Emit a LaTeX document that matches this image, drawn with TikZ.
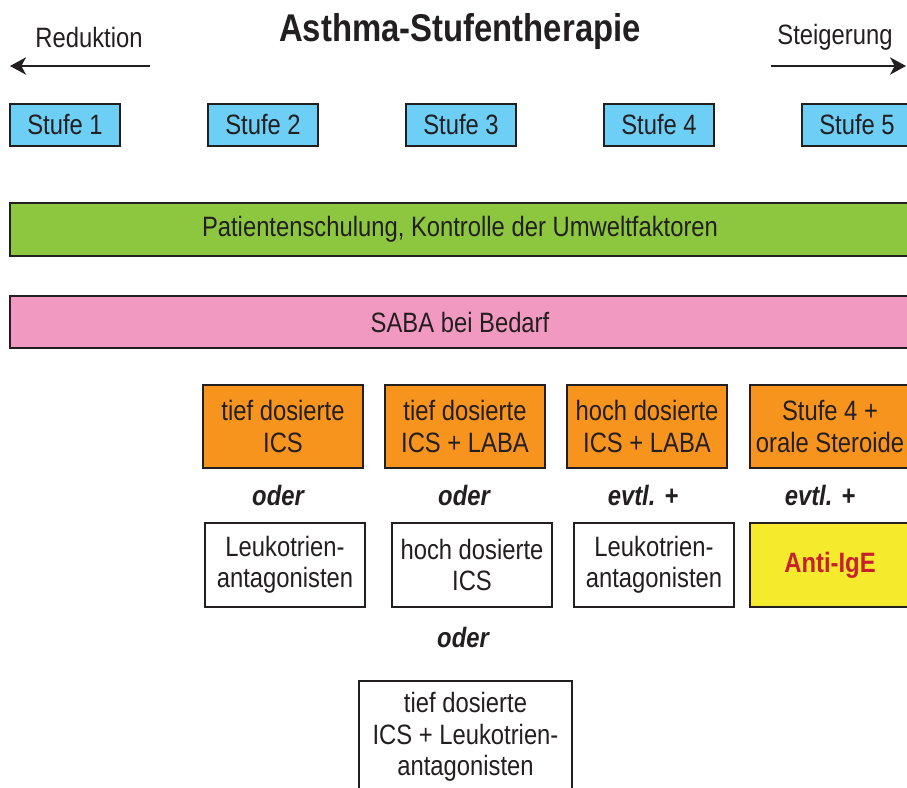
\documentclass[tikz,border=0pt]{standalone}
\usepackage{fontspec}
\setmainfont{Liberation Sans}[FakeStretch=0.85]
\usetikzlibrary{arrows.meta}
\definecolor{ink}{HTML}{231F20}
\definecolor{stufeblue}{HTML}{6DCFF6}
\definecolor{bargreen}{HTML}{8DC63F}
\definecolor{barpink}{HTML}{F299C1}
\definecolor{boxorange}{HTML}{F7941D}
\definecolor{boxyellow}{HTML}{F5EB2C}
\definecolor{igered}{HTML}{C8202F}
\tikzset{
  txt/.style={text=ink, font=\fontsize{21}{23.5}\selectfont, align=center, inner sep=0pt},
  base/.style={txt, draw=ink, line width=1.3pt, inner sep=0pt},
  stufebox/.style={base, fill=stufeblue, minimum width=82.5pt, minimum height=31.5pt},
  bar/.style={base, minimum width=675pt, minimum height=39.5pt},
  medbox/.style={base, fill=boxorange, minimum width=120pt, minimum height=62.25pt},
  altbox/.style={base, fill=white, minimum width=120pt, minimum height=63pt},
  conn/.style={txt, font=\fontsize{21}{23.5}\selectfont\bfseries\itshape},
  dirarrow/.style={draw=ink, line width=1.3pt, -{Stealth[length=12pt,width=13pt,inset=3.5pt]}}
}
\begin{document}
\begin{tikzpicture}[x=0.75pt,y=-0.75pt]
\useasboundingbox (0,0) rectangle (907,788);
\clip (0,0) rectangle (907,788);
% title and direction arrows
\node[txt, font=\fontsize{29}{33}\selectfont\bfseries] (title) at (460,32) {Asthma-Stufentherapie};
\node[txt] (red) at (89,37) {Reduktion};
\node[txt] (steig) at (835,37) {Steigerung};
\coordinate (redA) at (150,66);
\coordinate (redB) at (10,66);
\coordinate (stA) at (771,66);
\coordinate (stB) at (906,66);
\draw[dirarrow] (redA) -- (redB);
\draw[dirarrow] (stA) -- (stB);
% Stufen
\node[stufebox] (s1) at (65,125) {Stufe 1};
\node[stufebox] (s2) at (263,125) {Stufe 2};
\node[stufebox] (s3) at (461,125) {Stufe 3};
\node[stufebox] (s4) at (659,125) {Stufe 4};
\node[stufebox] (s5) at (857,125) {Stufe 5};
% bars
\node[bar, fill=bargreen] (green) at (460,229.5) {Patientenschulung, Kontrolle der Umweltfaktoren};
\node[bar, fill=barpink] (pink) at (460,322) {SABA bei Bedarf};
% medication row
\node[medbox] (m2) at (283,426.5) {tief dosierte\\ICS};
\node[medbox] (m3) at (465,426.5) {tief dosierte\\ICS + LABA};
\node[medbox] (m4) at (647,426.5) {hoch dosierte\\ICS + LABA};
\node[medbox] (m5) at (830,426.5) {Stufe 4 +\\orale Steroide};
% connectors
\node[conn] (c2) at (278,495) {oder};
\node[conn] (c3) at (464,495) {oder};
\node[conn] (c4) at (643,495) {evtl. +};
\node[conn] (c5) at (820,495) {evtl. +};
% alternatives
\node[altbox] (a2) at (285,565) {Leukotrien-\\antagonisten};
\node[altbox] (a3) at (472,565) {hoch dosierte\\ICS};
\node[altbox] (a4) at (654,565) {Leukotrien-\\antagonisten};
\node[altbox, fill=boxyellow, text=igered, font=\fontsize{21}{23.5}\selectfont\bfseries] (a5) at (830,565) {Anti-IgE};
\node[conn] (c3b) at (463,637) {oder};
\node[altbox, minimum width=159.75pt, minimum height=84pt] (b3) at (465.5,737) {tief dosierte\\ICS + Leukotrien-\\antagonisten};
\end{tikzpicture}
\end{document}
